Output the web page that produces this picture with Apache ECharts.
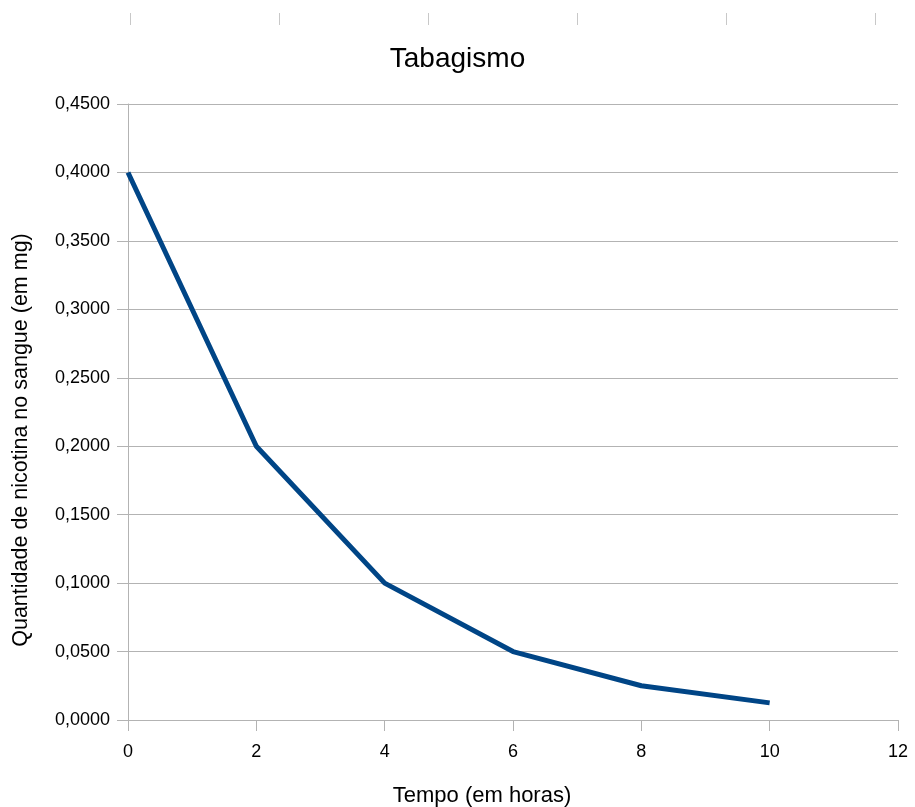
<!DOCTYPE html>
<html><head><meta charset="utf-8">
<script src="https://cdn.jsdelivr.net/npm/echarts@6/dist/echarts.min.js"></script>
<style>html,body{margin:0;padding:0;background:#fff}#c{width:915px;height:807px}</style>
</head><body><div id="c"></div>
<script>
const hours = [0, 2, 4, 6, 8, 10];
const nicotine = [0.4, 0.2, 0.1, 0.05, 0.025, 0.0125];
const titleText = 'Tabagismo';
const xName = 'Tempo (em horas)';
const yName = 'Quantidade de nicotina no sangue (em mg)';
const topTicks = [0, 1, 2, 3, 4, 5];

const chart = echarts.init(document.getElementById('c'));
const font = 'Liberation Sans, Arial, sans-serif';
const gridColor = '#b3b3b3';
chart.setOption({
  animation: false,
  title: {text: titleText, left: 'center', top: 40, textStyle: {fontFamily: font, fontSize: 28, fontWeight: 'normal', color: '#000'}},
  grid: [
    {left: 128, right: 17, top: 104, bottom: 87, containLabel: false, outerBoundsMode: 'none'},
    {left: 130, right: 40, top: 13, height: 0, containLabel: false, outerBoundsMode: 'none'}
  ],
  xAxis: [{
    type: 'value', gridIndex: 0, min: 0, max: 12, interval: 2,
    name: xName, nameLocation: 'middle', nameGap: 65,
    nameTextStyle: {fontFamily: font, fontSize: 22, color: '#000', padding: [0, 62, 0, 0]},
    axisLine: {show: true, lineStyle: {color: gridColor, width: 1}},
    axisTick: {show: true, length: 11, lineStyle: {color: gridColor}},
    axisLabel: {fontFamily: font, fontSize: 18, color: '#000', margin: 23},
    splitLine: {show: false}
  }, {
    type: 'value', gridIndex: 1, min: 0, max: 5, interval: 1, position: 'top',
    axisLine: {show: false},
    axisTick: {show: true, inside: true, length: 12, lineStyle: {color: '#c8c8c8'}},
    axisLabel: {show: false}, splitLine: {show: false}
  }],
  yAxis: [{
    type: 'value', gridIndex: 0, min: 0, max: 0.45, interval: 0.05,
    name: yName, nameLocation: 'middle', nameGap: 96, nameRotate: 90,
    nameTextStyle: {fontFamily: font, fontSize: 21.5, color: '#000', padding: [0, 56, 0, 0]},
    axisLine: {show: true, lineStyle: {color: gridColor, width: 1}},
    axisTick: {show: true, length: 11, lineStyle: {color: gridColor}},
    axisLabel: {fontFamily: font, fontSize: 18, color: '#000', margin: 18,
      formatter: v => v.toFixed(4).replace('.', ',')},
    splitLine: {show: true, lineStyle: {color: gridColor, width: 1}}
  }, {
    type: 'value', gridIndex: 1, show: false, min: 0, max: 1
  }],
  series: [{
    type: 'line', xAxisIndex: 0, yAxisIndex: 0,
    data: hours.map((h, i) => [h, nicotine[i]]),
    symbol: 'none', lineStyle: {color: '#004586', width: 5}
  }, {
    type: 'scatter', xAxisIndex: 1, yAxisIndex: 1, data: topTicks.map(t => [t, 0]), symbolSize: 0
  }]
});
</script></body></html>
